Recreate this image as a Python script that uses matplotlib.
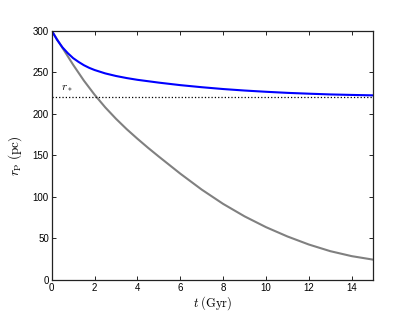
import numpy as np
import matplotlib
matplotlib.use("Agg")
import matplotlib.pyplot as plt

# orbital radius vs time
t_blue = [0, 0.25, 0.5, 0.75, 1, 1.25, 1.5, 1.75, 2, 2.5, 3, 3.5, 4, 5, 6, 7, 8, 9,
          10, 11, 12, 13, 14, 15]
r_blue = [300, 289, 280, 273, 267, 262.5, 258.5, 255.3, 252.7, 248.6, 245.5, 243,
          240.9, 237.5, 234.5, 232, 229.8, 228, 226.5, 225.2, 224.2, 223.3, 222.7, 222.2]

t_gray = [0, 0.5, 1, 1.5, 2, 2.5, 3, 3.5, 4, 4.5, 5, 6, 7, 8, 9, 10, 11, 12, 13, 14, 15]
r_gray = [300, 279.4, 259, 240, 223, 207.7, 194, 181.5, 170, 159, 148.5, 128, 108.8,
          91.6, 76.6, 63.6, 52.4, 42.7, 34.7, 28.7, 24.5]

r_star = 220

plt.rcParams['mathtext.fontset'] = 'cm'
plt.rcParams['font.family'] = ['Liberation Sans', 'DejaVu Sans']

fig = plt.figure(figsize=(4.15, 3.12), dpi=100)
ax = fig.add_axes([0.1246, 0.1026, 0.7744, 0.799])

ax.plot(t_gray, r_gray, color='#808080', lw=1.5)
ax.plot(t_blue, r_blue, color='blue', lw=1.5)
ax.axhline(r_star, color='black', ls=':', lw=0.9)
ax.text(0.45, 229, r'$r_*$', fontsize=8)

ax.set_xlim(0, 15)
ax.set_ylim(0, 300)
ax.set_xticks(np.arange(0, 15, 2))
ax.set_yticks(np.arange(0, 301, 50))
ax.tick_params(direction='in', top=True, right=True, length=3, width=0.6,
               labelsize=7, pad=2)
for s in ax.spines.values():
    s.set_linewidth(0.9)
    s.set_color('#222222')

ax.set_xlabel(r'$t\;(\mathrm{Gyr})$', fontsize=9, labelpad=1)
ax.set_ylabel(r'$r_{\mathrm{P}}\;(\mathrm{pc})$', fontsize=9.5, labelpad=6)

fig.savefig('out.png', dpi=100)
